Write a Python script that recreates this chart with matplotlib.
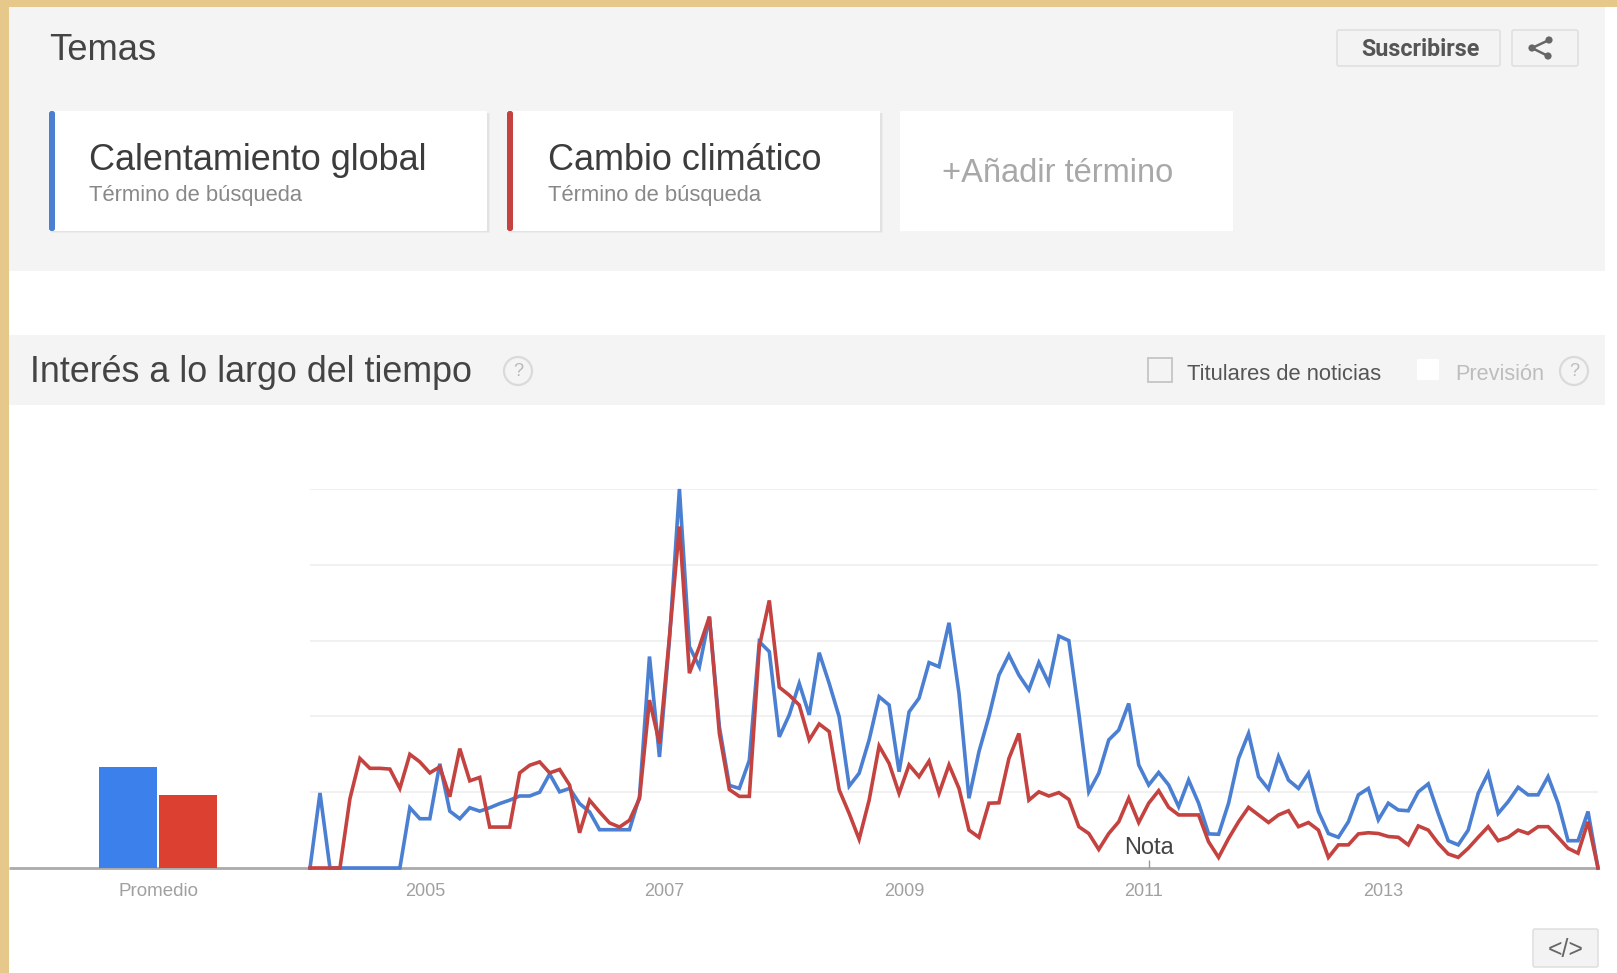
import matplotlib
matplotlib.use('Agg')
import matplotlib.pyplot as plt
from matplotlib.patches import Rectangle, Circle, FancyBboxPatch

W, H = 1617, 973

# monthly search interest, jan 2004 onwards
calentamiento = [0, 19.8, 0, 0, 0, 0, 0, 0, 0, 0, 15.9, 13.0, 13.0, 27.5, 15.0, 13.0, 15.9, 15.0, 15.9, 17.0,
                 17.9, 19.0, 19.0, 20.0, 24.8, 20.1, 21.0, 17.0, 14.8, 10.1, 10.1, 10.1, 10.1, 18.8, 55.8, 29.3,
                 60.2, 100, 58.4, 53.1, 66.3, 37.3, 21.8, 21.0, 28.4, 59.7, 57.1, 34.6, 40.4, 48.7, 40.4, 56.8,
                 48.7, 39.9, 21.6, 25.0, 33.8, 45.2, 43.0, 25.4, 41.2, 44.8, 54.2, 53.1, 64.7, 46.1, 18.4, 30.7,
                 40.0, 50.9, 56.2, 50.9, 47.0, 54.2, 48.7, 61.2, 60.0, 40.8, 20.1, 25.0, 33.8, 36.4, 43.4, 27.2,
                 21.9, 25.2, 21.9, 16.2, 23.2, 17.1, 9.0, 8.9, 17.1, 28.9, 35.5, 24.1, 20.8, 29.4, 23.2, 21.0,
                 25.0, 14.9, 9.1, 8.1, 12.2, 19.3, 21.0, 12.7, 17.1, 15.3, 15.1, 20.1, 22.2, 14.4, 7.2, 6.1,
                 10.0, 19.7, 25.0, 14.4, 17.5, 21.3, 19.3, 19.3, 24.1, 17.1, 7.2, 7.2, 14.9, 0]
cambio = [0, 0, 0, 0, 18.3, 28.9, 26.3, 26.3, 26.1, 21.0, 30.0, 28.0, 25.1, 26.7, 18.8, 31.5, 23.0, 23.9, 10.8, 10.8,
          10.8, 25.1, 27.1, 28.0, 25.1, 26.0, 21.9, 9.3, 17.9, 14.8, 11.9, 10.8, 12.6, 18.3, 44.3, 32.9,
          61.0, 90.1, 51.4, 58.4, 66.3, 35.5, 20.7, 18.9, 18.9, 58.4, 70.6, 47.7, 45.6, 43.0, 33.8, 38.0,
          36.0, 20.6, 14.4, 7.6, 17.9, 32.2, 27.6, 19.7, 27.2, 24.1, 28.2, 19.7, 27.2, 21.0, 10.0, 8.1,
          17.1, 17.2, 28.9, 35.5, 17.9, 20.1, 19.0, 19.9, 18.1, 10.9, 9.1, 4.9, 9.1, 12.2, 18.4, 12.0,
          17.1, 20.4, 16.0, 14.0, 14.0, 14.0, 6.9, 2.8, 7.8, 12.2, 16.0, 14.0, 12.0, 14.0, 15.1, 10.9,
          12.0, 10.0, 2.8, 6.1, 6.1, 9.0, 9.3, 9.1, 8.3, 8.1, 6.1, 11.1, 10.0, 6.5, 3.7, 2.8,
          5.2, 8.1, 10.9, 7.2, 8.1, 10.0, 9.1, 10.9, 10.9, 8.1, 5.2, 3.9, 12.2, 0]
promedio = [26.6, 19.3]
years = [2005, 2007, 2009, 2011, 2013]
grid_vals = [20, 40, 60, 80, 100]
nota_month = 84

AZUL = '#4a7fd2'
ROJO = '#c4423f'
GRIS = '#f4f4f4'

plt.rcParams['font.family'] = ['Liberation Sans', 'DejaVu Sans']

fig = plt.figure(figsize=(W / 100, H / 100), dpi=100, facecolor='#e5c88a')


def px_axes(left, top, right, bottom):
    return fig.add_axes([left / W, 1 - bottom / H, (right - left) / W, (bottom - top) / H])


# page chrome, in pixel coordinates
ui = fig.add_axes([0, 0, 1, 1])
ui.set_xlim(0, W)
ui.set_ylim(H, 0)
ui.axis('off')
ui.add_patch(Rectangle((9, 7), W, H, fc='white', ec='none'))
ui.add_patch(Rectangle((9, 7), 1596, 264, fc=GRIS, ec='none'))
ui.add_patch(Rectangle((9, 335), 1596, 70, fc=GRIS, ec='none'))


def fit_text(x, y, s, width, color, ha='left', **kw):
    t = ui.text(x, y, s, color=color, ha=ha, va='center', fontsize=20, **kw)
    ext = t.get_window_extent(fig.canvas.get_renderer())
    t.set_fontsize(20 * width / ext.width)
    return t


def card(x0, x1, stripe=None):
    if stripe:
        # soft shadow under the card
        ui.add_patch(Rectangle((x0 + 2, 113), x1 - x0 + 1, 120, fc='#ececec', ec='none'))
        ui.add_patch(Rectangle((x0 + 2, 113), x1 - x0, 119, fc='#e2e2e2', ec='none'))
    ui.add_patch(Rectangle((x0, 111), x1 - x0, 120, fc='white', ec='none'))
    if stripe:
        ui.add_patch(FancyBboxPatch((x0, 111), 6, 120, boxstyle='round,pad=0,rounding_size=2.5', fc=stripe, ec='none'))


card(49, 487, AZUL)
card(507, 880, ROJO)
card(900, 1233)

fit_text(49, 51, 'Temas', 107, '#444444')
fit_text(89, 160, 'Calentamiento global', 337, '#3c3c3c')
fit_text(89, 195, 'Término de búsqueda', 214, '#888888')
fit_text(548, 160, 'Cambio climático', 274, '#3c3c3c')
fit_text(548, 195, 'Término de búsqueda', 214, '#888888')
fit_text(942, 174, '+Añadir término', 231, '#a8a8a8')
fit_text(30, 372, 'Interés a lo largo del tiempo', 442, '#444444')
fit_text(1187, 374, 'Titulares de noticias', 195, '#555555')
fit_text(1455, 374, 'Previsión', 89, '#bdbdbd')

# header buttons
for x0, x1, y0, y1 in [(1337, 1500, 30, 66), (1512, 1578, 30, 66), (1533, 1598, 929, 967)]:
    ui.add_patch(FancyBboxPatch((x0, y0), x1 - x0, y1 - y0, boxstyle='round,pad=0,rounding_size=2',
                                fc='#f3f3f3', ec='#e0e0e0', lw=1.2))
fit_text(1420, 49, 'Suscribirse', 118, '#555555', ha='center', family='Roboto', fontweight='bold')
ui.plot([1549, 1532, 1548], [40, 48, 56], color='#666666', lw=1.8)
for cx, cy in [(1549, 40), (1532, 48), (1548, 56)]:
    ui.add_patch(Circle((cx, cy), 3.6, fc='#666666', ec='none'))
fit_text(1566, 950, '</>', 36, '#666666', ha='center')

# checkboxes and help marks
ui.add_patch(Rectangle((1148, 358), 24, 24, fc=GRIS, ec='#c8c8c8', lw=1.4))
ui.add_patch(Rectangle((1417, 359), 22, 21, fc='white', ec='none'))
for cx, colr in [(518, '#b8b8b8'), (1574, '#bdbdbd')]:
    ui.add_patch(Circle((cx, 371), 14, fc=GRIS, ec='#dadada', lw=1.6))
    ui.text(cx, 372, '?', ha='center', va='center', fontsize=13, color=colr)

# grid and baseline stay under the marks
ui.plot([9, 1598], [868, 868], color='#aaaaaa', lw=2, solid_capstyle='butt', zorder=1)

# average bars
ax_bar = px_axes(98, 489, 218, 868)
ax_bar.patch.set_alpha(0)
ax_bar.bar([0, 1], promedio, width=0.97, color=['#3c80ec', '#dc4030'])
ax_bar.set_xlim(-0.5, 1.5)
ax_bar.set_ylim(0, 100)
ax_bar.set_xticks([0.5], ['Promedio'])
ax_bar.set_yticks([])
ax_bar.tick_params(axis='x', length=0, pad=11, labelsize=13.5, labelcolor='#a0a0a0')
for sp in ax_bar.spines.values():
    sp.set_visible(False)

# time series
ax = px_axes(310, 489, 1598, 868)
ax.patch.set_alpha(0)
meses = list(range(len(calentamiento)))
ax.set_xlim(0, meses[-1])
ax.set_ylim(0, 100)
ax.hlines(grid_vals, 0, meses[-1], color='#f1f1f1', lw=1.4, zorder=1)
ax.plot(meses, calentamiento, color=AZUL, lw=2.6, clip_on=False, solid_joinstyle='miter', zorder=3)
ax.plot(meses, cambio, color=ROJO, lw=2.6, clip_on=False, solid_joinstyle='miter', zorder=4)
ax.set_xticks([(y - 2004) * 12 - 0.5 for y in years], [str(y) for y in years])
ax.set_yticks([])
ax.tick_params(axis='x', length=0, pad=11, labelsize=13, labelcolor='#a0a0a0')
for sp in ax.spines.values():
    sp.set_visible(False)

ax.annotate('Nota', xy=(nota_month, 0), xytext=(0, 20), textcoords='offset pixels', ha='center', va='center',
            fontsize=17, color='#444444', zorder=5, annotation_clip=False)
ax.vlines(nota_month, 0, 2.2, color='#999999', lw=1, zorder=2)

fig.savefig('out.png', dpi=100, facecolor=fig.get_facecolor())
